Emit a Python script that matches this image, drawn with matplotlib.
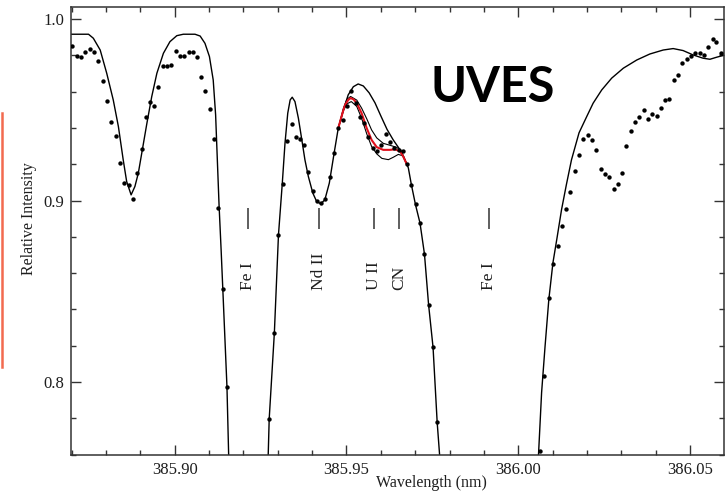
import matplotlib
matplotlib.use("Agg")
import matplotlib.pyplot as plt
from matplotlib.ticker import MultipleLocator, FixedLocator, FixedFormatter

# ---------------- data ----------------
# observed spectrum (dots)
obs_wl = [385.8702, 385.8715, 385.8727, 385.8740, 385.8753, 385.8765, 385.8778, 385.8790, 385.8803, 385.8815,
          385.8828, 385.8841, 385.8853, 385.8866, 385.8879, 385.8891, 385.8904, 385.8916, 385.8927, 385.8940,
          385.8952, 385.8965, 385.8978, 385.8990, 385.9003, 385.9015, 385.9028, 385.9041, 385.9053, 385.9066,
          385.9077, 385.9089, 385.9103, 385.9115, 385.9127, 385.9140, 385.9152,
          385.9275, 385.9290, 385.9302, 385.9314, 385.9328, 385.9341, 385.9352, 385.9364, 385.9376, 385.9389,
          385.9402, 385.9414, 385.9426, 385.9438, 385.9451, 385.9464, 385.9476, 385.9489, 385.9501, 385.9514,
          385.9527, 385.9539, 385.9552, 385.9563, 385.9576, 385.9589, 385.9601, 385.9614, 385.9627, 385.9639,
          385.9652, 385.9664, 385.9677, 385.9689, 385.9702, 385.9714, 385.9727, 385.9739, 385.9752, 385.9764,
          386.0063, 386.0076, 386.0089, 386.0102, 386.0115, 386.0126, 386.0139, 386.0151, 386.0164, 386.0177,
          386.0189, 386.0202, 386.0215, 386.0227, 386.0240, 386.0252, 386.0265, 386.0278, 386.0289, 386.0302,
          386.0314, 386.0327, 386.0340, 386.0352, 386.0365, 386.0377, 386.0390, 386.0403, 386.0415, 386.0427,
          386.0439, 386.0452, 386.0465, 386.0477, 386.0490, 386.0503, 386.0515, 386.0528, 386.0540, 386.0553,
          386.0566, 386.0577, 386.0590]
obs_int = [0.9853, 0.9796, 0.9789, 0.9817, 0.9835, 0.9817, 0.9769, 0.9660, 0.9550, 0.9433,
           0.9354, 0.9207, 0.9097, 0.9083, 0.9009, 0.9154, 0.9281, 0.9459, 0.9542, 0.9520,
           0.9627, 0.9740, 0.9743, 0.9745, 0.9824, 0.9796, 0.9795, 0.9817, 0.9817, 0.9793,
           0.9679, 0.9604, 0.9503, 0.9338, 0.8958, 0.8511, 0.7974,
           0.7797, 0.8270, 0.8811, 0.9091, 0.9329, 0.9420, 0.9352, 0.9340, 0.9305, 0.9158,
           0.9055, 0.9000, 0.8989, 0.9011, 0.9132, 0.9263, 0.9397, 0.9445, 0.9521, 0.9605,
           0.9538, 0.9462, 0.9425, 0.9349, 0.9287, 0.9275, 0.9307, 0.9364, 0.9325, 0.9290,
           0.9279, 0.9272, 0.9202, 0.9086, 0.8979, 0.8876, 0.8705, 0.8426, 0.8191, 0.7778,
           0.7620, 0.8035, 0.8463, 0.8650, 0.8747, 0.8857, 0.8953, 0.9046, 0.9165, 0.9252,
           0.9338, 0.9360, 0.9334, 0.9279, 0.9173, 0.9145, 0.9127, 0.9063, 0.9092, 0.9154,
           0.9301, 0.9384, 0.9435, 0.9459, 0.9499, 0.9448, 0.9476, 0.9466, 0.9509, 0.9554,
           0.9560, 0.9664, 0.9692, 0.9760, 0.9778, 0.9796, 0.9811, 0.9811, 0.9800, 0.9844,
           0.9890, 0.9873, 0.9811]

# synthetic spectrum (solid line)
model_wl = [385.8690, 385.8724, 385.8749, 385.8763, 385.8783, 385.8802, 385.8821, 385.8836, 385.8850, 385.8860,
            385.8873, 385.8884, 385.8894, 385.8904, 385.8919, 385.8933, 385.8948, 385.8967, 385.8986, 385.9006,
            385.9025, 385.9059, 385.9074, 385.9088, 385.9101, 385.9112, 385.9119, 385.9124, 385.9129, 385.9135,
            385.9140, 385.9152, 385.9157, 385.9162,
            385.9267, 385.9272, 385.9275, 385.9290, 385.9302, 385.9313, 385.9321, 385.9329, 385.9336, 385.9342,
            385.9350, 385.9360, 385.9370, 385.9379, 385.9389, 385.9402, 385.9413, 385.9425, 385.9437, 385.9450,
            385.9464, 385.9476, 385.9491, 385.9505, 385.9520, 385.9534, 385.9549, 385.9566, 385.9583, 385.9600,
            385.9618, 385.9636, 385.9656, 385.9670, 385.9680, 385.9689, 385.9701, 385.9714, 385.9727, 385.9739,
            385.9752, 385.9764, 385.9771, 385.9775,
            386.0054, 386.0059, 386.0068, 386.0078, 386.0089, 386.0101, 386.0113, 386.0126, 386.0140, 386.0155,
            386.0177, 386.0199, 386.0218, 386.0243, 386.0272, 386.0306, 386.0345, 386.0383, 386.0422, 386.0451,
            386.0480, 386.0509, 386.0538, 386.0558, 386.0577, 386.0602]
model_int = [0.9916, 0.9916, 0.9916, 0.9894, 0.9829, 0.9701, 0.9554, 0.9407, 0.9224, 0.9105,
             0.9031, 0.9077, 0.9151, 0.9261, 0.9426, 0.9572, 0.9701, 0.9811, 0.9875, 0.9908,
             0.9916, 0.9916, 0.9906, 0.9866, 0.9793, 0.9664, 0.9472, 0.9224, 0.8976, 0.8729,
             0.8510, 0.7975, 0.7595, 0.7200,
             0.7200, 0.7591, 0.7797, 0.8270, 0.8811, 0.9092, 0.9316, 0.9481, 0.9554, 0.9569,
             0.9545, 0.9453, 0.9334, 0.9224, 0.9132, 0.9041, 0.8995, 0.8982, 0.9004, 0.9096,
             0.9261, 0.9398, 0.9499, 0.9582, 0.9627, 0.9642, 0.9631, 0.9593, 0.9538, 0.9466,
             0.9392, 0.9334, 0.9279, 0.9224, 0.9180, 0.9086, 0.8976, 0.8876, 0.8705, 0.8426,
             0.8191, 0.7778, 0.7600, 0.7200,
             0.7200, 0.7600, 0.7942, 0.8195, 0.8454, 0.8657, 0.8795, 0.8949, 0.9086, 0.9224,
             0.9373, 0.9461, 0.9536, 0.9609, 0.9674, 0.9729, 0.9774, 0.9807, 0.9829, 0.9837,
             0.9826, 0.9802, 0.9784, 0.9778, 0.9789, 0.9802]

# syntheses with uranium (best fit in red, +/- in black)
u_best_wl = [385.9476, 385.9491, 385.9496, 385.9505, 385.9512, 385.9520, 385.9530, 385.9544, 385.9559,
             385.9573, 385.9588, 385.9607, 385.9627, 385.9641, 385.9656, 385.9665, 385.9675]
u_best_int = [0.9398, 0.9499, 0.9527, 0.9554, 0.9564, 0.9558, 0.9536, 0.9481, 0.9398,
              0.9334, 0.9294, 0.9279, 0.9279, 0.9282, 0.9271, 0.9243, 0.9202]
u_low_wl = [385.9476, 385.9491, 385.9501, 385.9512, 385.9530, 385.9544, 385.9559, 385.9573,
            385.9588, 385.9607, 385.9627, 385.9646, 385.9659, 385.9667, 385.9675]
u_low_int = [0.9398, 0.9507, 0.9557, 0.9573, 0.9553, 0.9509, 0.9450, 0.9389,
             0.9345, 0.9315, 0.9304, 0.9293, 0.9274, 0.9241, 0.9202]
u_high_wl = [385.9476, 385.9491, 385.9501, 385.9514, 385.9530, 385.9544, 385.9559, 385.9573,
             385.9588, 385.9603, 385.9622, 385.9636, 385.9651, 385.9664, 385.9675]
u_high_int = [0.9398, 0.9494, 0.9532, 0.9545, 0.9518, 0.9453, 0.9367, 0.9298,
              0.9257, 0.9232, 0.9225, 0.9238, 0.9254, 0.9246, 0.9202]

# line identifications
line_labels = ["Fe I", "Nd II", "U II", "CN", "Fe I"]
line_wl = [385.9214, 385.9421, 385.9580, 385.9653, 385.9915]

x_major = [385.90, 385.95, 386.00, 386.05]
x_major_labels = ["385.90", "385.95", "386.00", "386.05"]
y_major = [0.8, 0.9, 1.0]
y_major_labels = ["0.8", "0.9", "1.0"]

# ---------------- figure ----------------
W, H = 728, 493
fig = plt.figure(figsize=(W / 100, H / 100), dpi=100)
ax = fig.add_axes([71 / W, 38 / H, 653 / W, 448 / H])

serif = ["Liberation Serif", "DejaVu Serif"]
ink = "#1e1e1e"

ax.plot(model_wl, model_int, color="black", lw=1.0, zorder=2)
ax.plot(u_low_wl, u_low_int, color="black", lw=0.8, zorder=2)
ax.plot(u_high_wl, u_high_int, color="black", lw=0.8, zorder=2)
ax.plot(u_best_wl, u_best_int, color="#e0101c", lw=1.5, zorder=2.5)
ax.scatter(obs_wl, obs_int, s=10, color="black", zorder=3, linewidths=0)

ax.vlines(line_wl, 0.8844, 0.8960, color="#333333", lw=1.1)
for wl, lab in zip(line_wl, line_labels):
    ax.text(wl, 0.8509, lab, rotation=90, ha="center", va="bottom",
            family=serif, fontsize=12.5, color=ink)

ax.set_xlim(385.8698, 386.0599)
ax.set_ylim(0.7598, 1.0066)

ax.xaxis.set_major_locator(FixedLocator(x_major))
ax.xaxis.set_major_formatter(FixedFormatter(x_major_labels))
ax.xaxis.set_minor_locator(MultipleLocator(0.01))
ax.yaxis.set_major_locator(FixedLocator(y_major))
ax.yaxis.set_major_formatter(FixedFormatter(y_major_labels))
ax.yaxis.set_minor_locator(MultipleLocator(0.02))

ax.tick_params(which="both", direction="in", top=True, right=True,
               color="#333333", width=1.0)
ax.tick_params(which="major", length=7.2, pad=5, labelsize=12, labelcolor=ink)
ax.tick_params(which="minor", length=3.6)
for lab in ax.get_xticklabels() + ax.get_yticklabels():
    lab.set_family(serif)
for sp in ax.spines.values():
    sp.set_linewidth(1.1)
    sp.set_color("#333333")

fig.text(29 / W, 1 - 219 / H, "Relative Intensity", rotation=90, ha="center", va="center",
         family=serif, fontsize=11.5, color=ink)
fig.text(431.5 / W, 1 - 483 / H, "Wavelength (nm)", ha="center", va="center",
         family=serif, fontsize=11.5, color=ink)

fig.text(430 / W, 1 - 102 / H, "UVES", ha="left", va="baseline",
         family=["Lato", "DejaVu Sans"], fontweight="bold", fontsize=35, color="black")

# orange marker bar at the left edge
fig.add_artist(plt.Line2D([1.5 / W, 1.5 / W], [1 - 367 / H, 1 - 113 / H],
                          transform=fig.transFigure, color="#f26a4f", lw=1.8))

fig.savefig("out.png", dpi=100)
